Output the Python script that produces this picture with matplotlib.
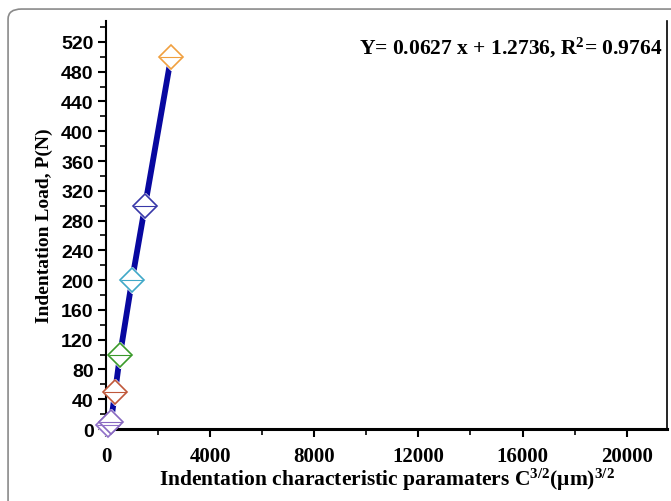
import matplotlib
matplotlib.use("Agg")
import matplotlib.pyplot as plt
from matplotlib.patches import FancyBboxPatch
from matplotlib.ticker import MultipleLocator

# datos
load = [5, 10, 50, 100, 200, 300, 500]                 # P (N)
c32 = [80, 190, 350, 540, 1000, 1500, 2500]             # C^3/2 (um)^3/2
marker_colors = ['#9070c8', '#8868c0', '#c0583a', '#3a9a2a', '#40a8c8', '#3838a8', '#f0a040']
fit_text = "Y= 0.0627 x + 1.2736, R$^\\mathrm{2}$= 0.9764"

plt.rcParams['mathtext.fontset'] = 'custom'
plt.rcParams['mathtext.rm'] = 'Liberation Serif:bold'
plt.rcParams['mathtext.bf'] = 'Liberation Serif:bold'
plt.rcParams['mathtext.it'] = 'Liberation Serif:bold'

fig = plt.figure(figsize=(6.71, 5.02), dpi=100)
ax = fig.add_axes([0.158, 0.1434, 0.836, 0.8126])

# marco redondeado exterior
frame = FancyBboxPatch((0.012, -0.05), 1.05, 1.03, boxstyle="round,pad=0,rounding_size=0.02",
                       transform=fig.transFigure, facecolor='none', edgecolor='#8a8a8a',
                       linewidth=1.2, clip_on=False)
fig.patches.append(frame)

# linea gruesa
ax.plot(c32, load, color='#0808a0', linewidth=4.2, solid_capstyle='butt', zorder=2)

# marcadores (diamante hueco con linea horizontal)
for x, y, col in zip(c32, load, marker_colors):
    # halo blanco para cortar la linea alrededor del marcador
    ax.plot([x], [y], marker='D', markersize=13.5, markerfacecolor='white',
            markeredgecolor='white', linestyle='none', zorder=2.5, clip_on=False)
    ax.plot([x], [y], marker='D', markersize=12, markerfacecolor='white',
            markeredgecolor=col, markeredgewidth=1.2, linestyle='none', zorder=3, clip_on=False)
    ax.plot([x], [y], marker='_', markersize=16, markeredgecolor=col,
            markeredgewidth=0.8, linestyle='none', zorder=4, clip_on=False)

ax.set_xlim(0, 21550)
ax.set_ylim(0, 548)
ax.xaxis.set_major_locator(MultipleLocator(4000))
ax.xaxis.set_minor_locator(MultipleLocator(2000))
ax.yaxis.set_major_locator(MultipleLocator(40))
ax.yaxis.set_minor_locator(MultipleLocator(20))

ax.tick_params(which='major', direction='out', length=6, width=1.5)
ax.tick_params(which='minor', direction='out', length=4, width=1.2)
ax.tick_params(axis='x', pad=6)
ax.tick_params(axis='y', pad=3)

for lbl in ax.get_xticklabels():
    lbl.set_fontfamily('Liberation Serif')
    lbl.set_fontweight('bold')
    lbl.set_fontsize(15)
for lbl in ax.get_yticklabels():
    lbl.set_fontfamily('Liberation Sans')
    lbl.set_fontweight('bold')
    lbl.set_fontsize(14)

ax.spines['top'].set_visible(False)
ax.spines['left'].set_linewidth(1.5)
ax.spines['bottom'].set_linewidth(2.2)
ax.spines['right'].set_linewidth(1.2)

ax.set_xlabel("Indentation characteristic paramaters C$^{3/2}$(μm)$^{3/2}$",
              fontfamily='Liberation Serif', fontweight='bold', fontsize=15.5, labelpad=0)
ax.set_ylabel("Indentation Load, P(N)", fontfamily='Liberation Serif',
              fontweight='bold', fontsize=14, labelpad=6)

ax.text(0.992, 0.965, fit_text, transform=ax.transAxes, ha='right', va='top',
        fontfamily='Liberation Serif', fontweight='bold', fontsize=15.5)

fig.savefig("out.png", dpi=100)
